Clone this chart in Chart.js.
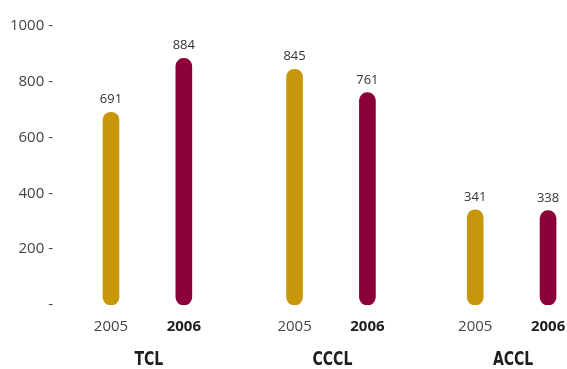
<!DOCTYPE html>
<html>
<head>
<meta charset="utf-8">
<script src="https://cdn.jsdelivr.net/npm/chart.js@4.4.0/dist/chart.umd.min.js"></script>
<style>
    html, body { margin: 0; padding: 0; background: #ffffff; }
    #wrap { width: 567px; height: 369px; }
</style>
</head>
<body>
<div id="wrap"><canvas id="chartCongTy"></canvas></div>
<script>
// ==================== DỮ LIỆU ====================
const congTy = ["TCL", "CCCL", "ACCL"];
const nam = ["2005", "2006"];
const giaTri2005 = [691, 845, 341];
const giaTri2006 = [884, 761, 338];
const mocTrucY = [0, 200, 400, 600, 800, 1000];

// vị trí từng cột trên trục x (khoảng cách giữa các nhóm rộng hơn)
const viTriNhom = [0, 2.52, 5];
const mauNam = ["#c8960a", "#8a0038"];

const FONT_CHU = "'Open Sans', 'DejaVu Sans', sans-serif";
const FONT_HEP = "'DejaVu Sans Condensed', 'Open Sans', sans-serif";

function taoDiem(values, lech) {
    return values.map((v, i) => ({ x: viTriNhom[i] + lech, y: v }));
}

// tick chẵn là 2005, tick lẻ là 2006
const laNam2006 = ctx => ctx && typeof ctx.index === "number" && ctx.index % 2 === 1;

// ==================== NHÃN GIÁ TRỊ + TÊN CÔNG TY ====================
const nhanGiaTri = {
    id: "nhanGiaTri",
    afterDatasetsDraw(chart) {
        const ctx = chart.ctx;
        ctx.save();
        ctx.font = "13px " + FONT_CHU;
        ctx.fillStyle = "#333333";
        ctx.textAlign = "center";
        ctx.textBaseline = "alphabetic";
        chart.data.datasets.forEach((ds, di) => {
            chart.getDatasetMeta(di).data.forEach((bar, i) => {
                ctx.fillText(String(ds.data[i].y), bar.x, bar.y - 9);
            });
        });
        ctx.restore();
    },
    afterDraw(chart) {
        // tên công ty dưới mỗi nhóm, chữ đậm và hẹp
        const ctx = chart.ctx;
        const x = chart.scales.x;
        ctx.save();
        ctx.font = "bold 20px " + FONT_HEP;
        ctx.fillStyle = "#1e1e1e";
        ctx.textAlign = "center";
        ctx.textBaseline = "alphabetic";
        congTy.forEach((ten, i) => {
            const cx = x.getPixelForValue(viTriNhom[i] + 0.52);
            ctx.save();
            ctx.translate(cx, 365);
            ctx.scale(0.78, 1);
            ctx.fillText(ten, 0, 0);
            ctx.restore();
        });
        ctx.restore();
    }
};

new Chart(document.getElementById("chartCongTy"), {
    type: "bar",
    data: {
        datasets: [
            { label: nam[0], data: taoDiem(giaTri2005, 0), backgroundColor: mauNam[0] },
            { label: nam[1], data: taoDiem(giaTri2006, 1), backgroundColor: mauNam[1] }
        ]
    },
    options: {
        responsive: true,
        maintainAspectRatio: false,
        animation: false,
        layout: { padding: { top: 26, right: 0, bottom: 0, left: 0 } },
        datasets: {
            bar: {
                grouped: false,
                barThickness: 16,
                borderRadius: 8,
                borderSkipped: false
            }
        },
        plugins: {
            legend: { display: false },
            tooltip: { enabled: false }
        },
        scales: {
            x: {
                type: "linear",
                offset: false,
                bounds: "data",
                min: -0.7,
                max: 6.26,
                grid: { display: false, drawTicks: false, offset: false },
                border: { display: false },
                afterBuildTicks: axis => {
                    const ds = [];
                    viTriNhom.forEach(p => {
                        ds.push({ value: p });
                        ds.push({ value: p + 1 });
                    });
                    axis.ticks = ds;
                },
                afterFit: axis => {
                    axis.height = 64;
                    axis.paddingLeft = 0;
                    axis.paddingRight = 0;
                },
                ticks: {
                    padding: 13,
                    maxRotation: 0,
                    autoSkip: false,
                    color: ctx => (laNam2006(ctx) ? "#1e1e1e" : "#444444"),
                    font: ctx => ({
                        family: FONT_CHU,
                        size: 15,
                        weight: laNam2006(ctx) ? "bold" : "normal"
                    }),
                    callback: (value, index) => nam[index % 2]
                }
            },
            y: {
                min: 0,
                max: 1000,
                grid: { display: false, drawTicks: false },
                border: { display: false },
                afterBuildTicks: axis => {
                    axis.ticks = mocTrucY.map(v => ({ value: v }));
                },
                afterFit: axis => { axis.width = 60; },
                ticks: {
                    padding: 7,
                    color: "#444444",
                    font: { family: FONT_CHU, size: 15 },
                    callback: value => (value === 0 ? "-" : value + " -")
                }
            }
        }
    },
    plugins: [nhanGiaTri]
});
</script>
</body>
</html>
